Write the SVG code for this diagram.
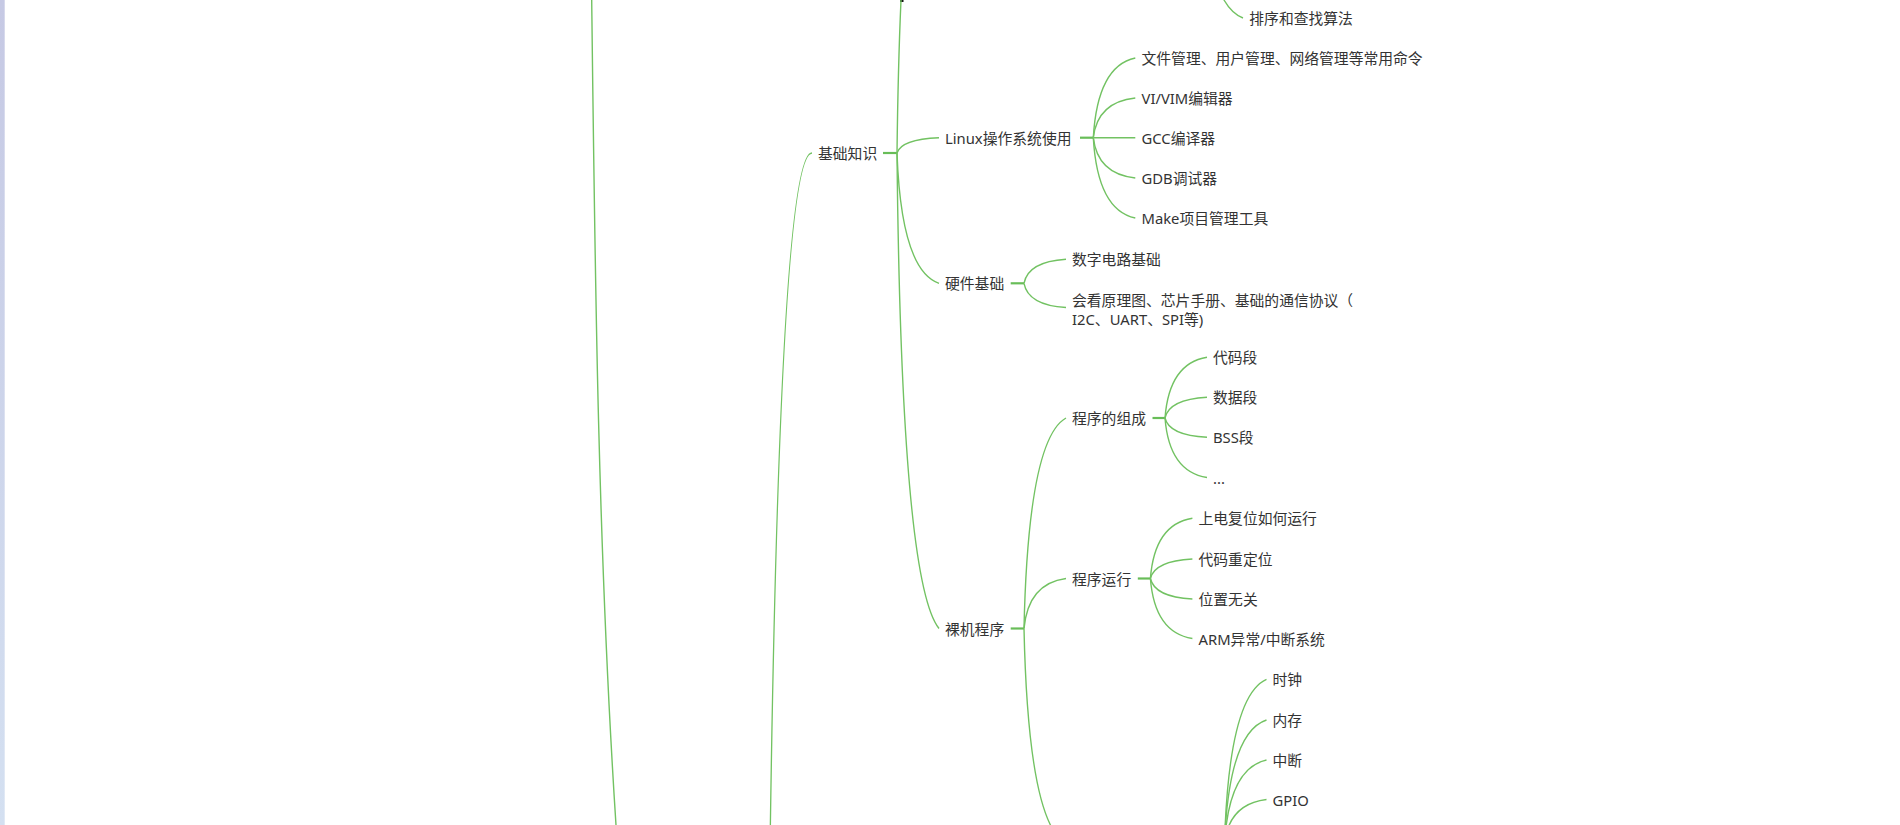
<svg xmlns="http://www.w3.org/2000/svg" width="1900" height="825" viewBox="0 0 1900 825">
<defs>
<linearGradient id="band" x1="0" y1="0" x2="0" y2="1"><stop offset="0" stop-color="#c6c9e4"/><stop offset="1" stop-color="#d4e0f1"/></linearGradient>
<style>
.t{font-family:"Noto Sans","Noto Sans CJK SC",sans-serif;font-size:14.8px;fill:#333;dominant-baseline:central}
.c{fill:none;stroke:#72c262;stroke-width:1.4}
.s{fill:none;stroke:#68bd58;stroke-width:2.2}
</style>
</defs>
<rect width="1900" height="825" fill="#fff"/>
<rect x="0" y="0" width="4.7" height="825" fill="url(#band)"/>
<rect x="900" y="0" width="3.5" height="2" fill="#111"/>
<g id="connectors">
<path class="c" d="M591.7 0 C595 275 598 550 616 825"/>
<path class="c" d="M766 1553 Q766 153 812 153"/>
<path class="c" d="M1201 -127 Q1205.2 3.5 1243 18"/>
<path class="s" d="M883 153 H897"/>
<path class="c" d="M897 153 Q901.2 -201.2 939 -241"/>
<path class="c" d="M897 153 Q901.2 139.2 939 137.7"/>
<path class="c" d="M897 153 Q901.2 270.3 939 283.3"/>
<path class="c" d="M897 153 Q901.2 581 939 628.5"/>
<path class="s" d="M1080 137.7 H1093.3"/>
<path class="c" d="M1093.3 137.7 Q1097.5 66 1135.3 58"/>
<path class="c" d="M1093.3 137.7 Q1097.5 102 1135.3 98"/>
<path class="c" d="M1093.3 137.7 L1135.3 137.7"/>
<path class="c" d="M1093.3 137.7 Q1097.5 174 1135.3 178"/>
<path class="c" d="M1093.3 137.7 Q1097.5 210 1135.3 218"/>
<path class="s" d="M1010.7 283.3 H1024"/>
<path class="c" d="M1024 283.3 Q1028.2 261.7 1066 259.3"/>
<path class="c" d="M1024 283.3 Q1028.2 305.1 1066 307.5"/>
<path class="s" d="M1010.7 628.5 H1024"/>
<path class="c" d="M1024 628.5 Q1028.2 439 1066 418"/>
<path class="c" d="M1024 628.5 Q1028.2 583.5 1066 578.5"/>
<path class="c" d="M1024 628.5 Q1028.2 822.5 1066 844"/>
<path class="s" d="M1152.5 418 H1165"/>
<path class="c" d="M1165 418 Q1169.2 363.4 1207 357.3"/>
<path class="c" d="M1165 418 Q1169.2 399.4 1207 397.3"/>
<path class="c" d="M1165 418 Q1169.2 435.4 1207 437.3"/>
<path class="c" d="M1165 418 Q1169.2 471.6 1207 477.5"/>
<path class="s" d="M1137.8 578.5 H1150.4"/>
<path class="c" d="M1150.4 578.5 Q1154.6 524.3 1192.4 518.3"/>
<path class="c" d="M1150.4 578.5 Q1154.6 561 1192.4 559"/>
<path class="c" d="M1150.4 578.5 Q1154.6 597 1192.4 599"/>
<path class="c" d="M1150.4 578.5 Q1154.6 632.5 1192.4 638.5"/>
<path class="c" d="M1224.5 844 Q1228.7 695.8 1266.5 679.3"/>
<path class="c" d="M1224.5 844 Q1228.7 732.4 1266.5 720"/>
<path class="c" d="M1224.5 844 Q1228.7 768.4 1266.5 760"/>
<path class="c" d="M1224.5 844 Q1228.7 804 1266.5 799.5"/>
</g>
<g id="n-sort"><text class="t" x="1249.3" y="18.3">排序和查找算法</text></g>
<g id="n-basic"><text class="t" x="818" y="153">基础知识</text></g>
<g id="n-linux"><text class="t" x="945" y="137.7">Linux操作系统使用</text></g>
<g id="n-cmd"><text class="t" x="1141.5" y="58">文件管理、用户管理、网络管理等常用命令</text></g>
<g id="n-vim"><text class="t" x="1141.5" y="98">VI/VIM编辑器</text></g>
<g id="n-gcc"><text class="t" x="1141.5" y="137.7">GCC编译器</text></g>
<g id="n-gdb"><text class="t" x="1141.5" y="178">GDB调试器</text></g>
<g id="n-make"><text class="t" x="1141.5" y="218">Make项目管理工具</text></g>
<g id="n-hw"><text class="t" x="945" y="283.3">硬件基础</text></g>
<g id="n-digital"><text class="t" x="1072" y="259.3">数字电路基础</text></g>
<g id="n-schem"><text class="t"><tspan x="1072" y="299.5">会看原理图、芯片手册、基础的通信协议（</tspan><tspan x="1072" y="318.5">I2C、UART、SPI等)</tspan></text></g>
<g id="n-bare"><text class="t" x="945" y="628.5">裸机程序</text></g>
<g id="n-compose"><text class="t" x="1072" y="418">程序的组成</text></g>
<g id="n-code"><text class="t" x="1213" y="357.3">代码段</text></g>
<g id="n-data"><text class="t" x="1213" y="397.3">数据段</text></g>
<g id="n-bss"><text class="t" x="1213" y="437.3">BSS段</text></g>
<g id="n-more"><text class="t" x="1213" y="477.5">...</text></g>
<g id="n-run"><text class="t" x="1072" y="578.5">程序运行</text></g>
<g id="n-reset"><text class="t" x="1198.5" y="518.3">上电复位如何运行</text></g>
<g id="n-reloc"><text class="t" x="1198.5" y="559">代码重定位</text></g>
<g id="n-pic"><text class="t" x="1198.5" y="599">位置无关</text></g>
<g id="n-irq"><text class="t" x="1198.5" y="638.5">ARM异常/中断系统</text></g>
<g id="n-clock"><text class="t" x="1272.5" y="679.3">时钟</text></g>
<g id="n-mem"><text class="t" x="1272.5" y="720">内存</text></g>
<g id="n-int"><text class="t" x="1272.5" y="760">中断</text></g>
<g id="n-gpio"><text class="t" x="1272.5" y="799.5">GPIO</text></g>
</svg>
